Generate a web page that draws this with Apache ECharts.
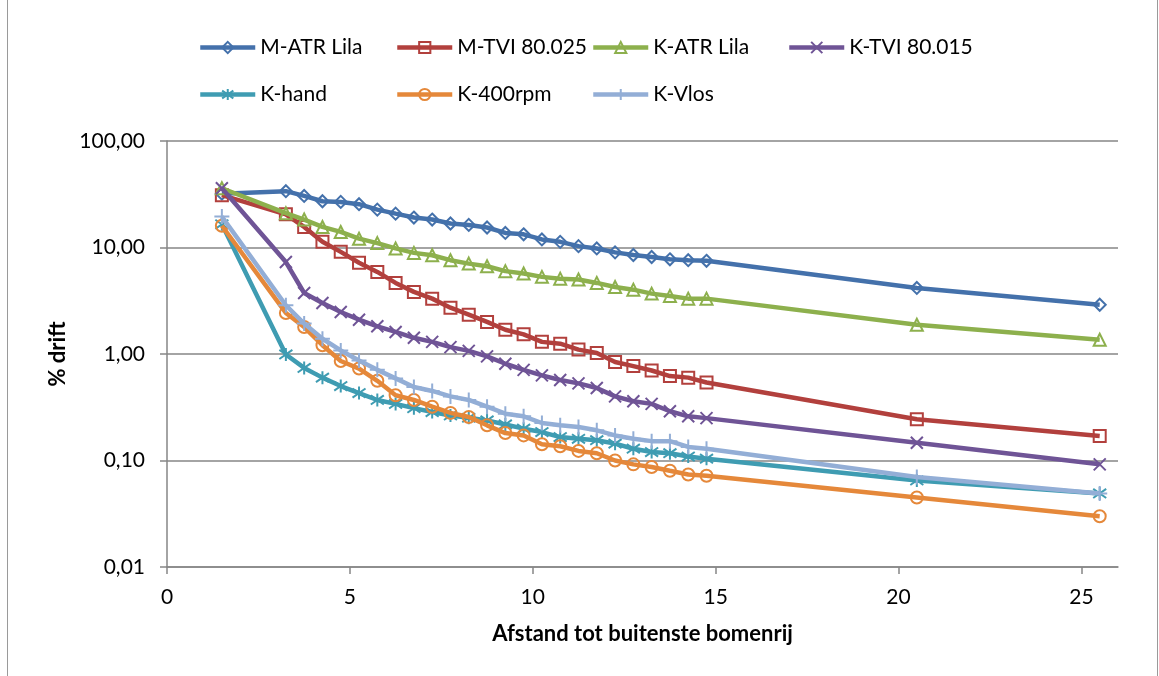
<!DOCTYPE html>
<html>
<head>
<meta charset="utf-8">
<script src="https://cdn.jsdelivr.net/npm/echarts@6/dist/echarts.min.js"></script>
<style>
html,body{margin:0;padding:0;background:#fff;}
#c{width:1159px;height:676px;}
</style>
</head>
<body>
<div id="c"></div>
<script>
// Distance (x) values
const xs = [1.5, 3.25, 3.75, 4.25, 4.75, 5.25, 5.75, 6.25, 6.75, 7.25, 7.75, 8.25, 8.75, 9.25, 9.75, 10.25, 10.75, 11.25, 11.75, 12.25, 12.75, 13.25, 13.75, 14.25, 14.75, 20.5, 25.5];
// % drift per series
const mAtrLila = [32, 33.8, 30.5, 27.2, 26.8, 25.5, 22.7, 20.8, 19.1, 18.3, 16.8, 16.3, 15.4, 13.7, 13.3, 11.9, 11.3, 10.3, 9.8, 9.0, 8.5, 8.15, 7.75, 7.6, 7.5, 4.17, 2.9];
const mTvi = [31, 20.5, 15.6, 11.3, 9.1, 7.2, 5.9, 4.65, 3.83, 3.31, 2.72, 2.34, 2.0, 1.69, 1.53, 1.30, 1.25, 1.10, 1.02, 0.84, 0.77, 0.70, 0.62, 0.60, 0.54, 0.244, 0.17];
const kAtrLila = [36, 21, 18.3, 15.6, 14.0, 12.1, 11.0, 9.8, 8.9, 8.45, 7.6, 7.06, 6.67, 6.0, 5.7, 5.3, 5.1, 5.0, 4.65, 4.26, 4.02, 3.69, 3.51, 3.31, 3.31, 1.88, 1.36];
const kTvi = [36, 7.3, 3.74, 3.01, 2.48, 2.10, 1.82, 1.61, 1.42, 1.30, 1.16, 1.07, 0.95, 0.81, 0.71, 0.63, 0.57, 0.53, 0.48, 0.40, 0.36, 0.34, 0.29, 0.26, 0.25, 0.147, 0.092];
const kHand = [16.5, 0.99, 0.74, 0.60, 0.50, 0.43, 0.37, 0.34, 0.31, 0.285, 0.265, 0.252, 0.238, 0.218, 0.199, 0.185, 0.166, 0.160, 0.155, 0.144, 0.129, 0.120, 0.117, 0.109, 0.104, 0.065, 0.049];
const k400rpm = [16, 2.43, 1.79, 1.21, 0.86, 0.73, 0.56, 0.41, 0.37, 0.32, 0.28, 0.256, 0.214, 0.181, 0.172, 0.142, 0.136, 0.123, 0.117, 0.100, 0.092, 0.087, 0.080, 0.074, 0.072, 0.045, 0.030];
const kVlos = [19.5, 2.87, 1.93, 1.39, 1.08, 0.87, 0.71, 0.59, 0.49, 0.45, 0.40, 0.37, 0.32, 0.275, 0.26, 0.225, 0.214, 0.206, 0.192, 0.172, 0.160, 0.152, 0.152, 0.134, 0.129, 0.070, 0.049];
const seriesNames = ['M-ATR Lila', 'M-TVI 80.025', 'K-ATR Lila', 'K-TVI 80.015', 'K-hand', 'K-400rpm', 'K-Vlos'];
const xTickValues = [0, 5, 10, 15, 20, 25];

const seriesValues = [mAtrLila, mTvi, kAtrLila, kTvi, kHand, k400rpm, kVlos];
const colors = ['#4471AB', '#B2403D', '#8DB04D', '#6F5496', '#3F9CB2', '#E5883A', '#93AED6'];
const symbols = [
  'diamond',
  'rect',
  'triangle',
  'path://M0,0L10,10M10,0L0,10',
  'path://M5,0L5,10M0,1.5L10,8.5M10,1.5L0,8.5',
  'circle',
  'path://M5,0L5,10M0,5L10,5'
];
const symSizes = [12, 12, 12, 12, 13, 12, 15];
const FONT = 'Lato, "Open Sans", sans-serif';

const series = seriesNames.map((name, i) => ({
  name: name,
  type: 'line',
  data: xs.map((x, j) => [x, seriesValues[i][j]]),
  symbol: symbols[i],
  symbolSize: symSizes[i],
  showSymbol: true,
  lineStyle: { color: colors[i], width: 4.5 },
  itemStyle: { color: 'rgba(255,255,255,0)', borderColor: colors[i], borderWidth: 2 },
  emphasis: { disabled: true },
  z: 2 + i
}));

const legendLefts = [198, 395, 591, 787];
const legendTops = [37, 84];
const legends = seriesNames.map((name, i) => ({
  data: [name],
  left: legendLefts[i % 4],
  top: legendTops[Math.floor(i / 4)],
  padding: 0,
  itemWidth: 55,
  itemHeight: 14,
  itemGap: 0,
  lineStyle: { width: 4.5 },
  textStyle: { fontFamily: FONT, fontSize: 21, color: '#000', padding: [0, 0, 0, 0] },
  selectedMode: false
}));

const chart = echarts.init(document.getElementById('c'), null, { renderer: 'canvas' });
chart.setOption({
  animation: false,
  backgroundColor: '#fff',
  legend: legends,
  graphic: [{
    type: 'rect',
    shape: { x: 7.5, y: -5, width: 1150, height: 690 },
    style: { fill: 'none', stroke: '#9a9a9a', lineWidth: 1 },
    silent: true
  }],
  grid: { left: 167, top: 141, right: 41, bottom: 109, containLabel: false },
  xAxis: {
    type: 'value',
    min: 0,
    max: 26,
    interval: 5,
    name: 'Afstand tot buitenste bomenrij',
    nameLocation: 'middle',
    nameGap: 56,
    nameTextStyle: { fontFamily: FONT, fontSize: 22, fontWeight: 'bold', color: '#000' },
    axisLine: { onZero: false, lineStyle: { color: '#868686', width: 1.5 } },
    axisTick: { show: true, length: 7, inside: false, lineStyle: { color: '#868686', width: 1.5 }, customValues: xTickValues },
    axisLabel: { fontFamily: FONT, fontSize: 21, color: '#000', margin: 20, customValues: xTickValues },
    splitLine: { show: false }
  },
  yAxis: {
    type: 'log',
    logBase: 10,
    min: 0.01,
    max: 100,
    name: '% drift',
    nameLocation: 'middle',
    nameGap: 96,
    nameTextStyle: { fontFamily: FONT, fontSize: 22, fontWeight: 'bold', color: '#000' },
    axisLine: { show: true, lineStyle: { color: '#868686', width: 1.5 } },
    axisTick: { show: true, length: 7, inside: false, lineStyle: { color: '#868686', width: 1.5 } },
    axisLabel: {
      fontFamily: FONT, fontSize: 21, color: '#000', margin: 22,
      formatter: v => Number(v).toFixed(2).replace('.', ',')
    },
    splitLine: { show: true, lineStyle: { color: '#868686', width: 1.5 } }
  },
  series: series
});
</script>
</body>
</html>
